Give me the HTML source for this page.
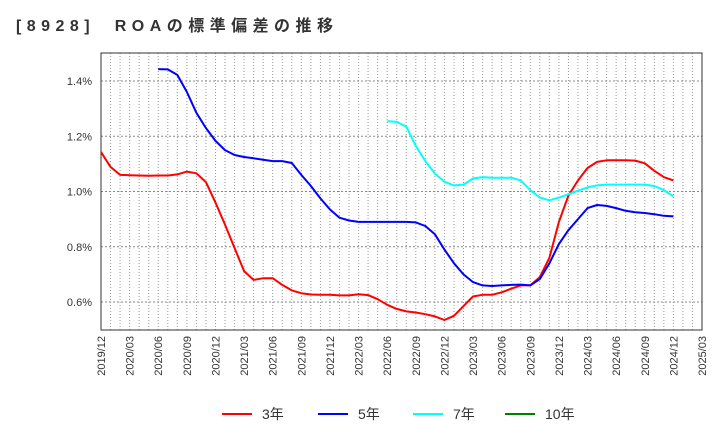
<!DOCTYPE html>
<html><head><meta charset="utf-8">
<style>
body{margin:0;background:#fff;font-family:"Liberation Sans","Noto Sans CJK JP",sans-serif;}
svg text{font-family:"Liberation Sans","Noto Sans CJK JP",sans-serif;}
</style></head>
<body>
<svg id="chart" width="720" height="440" xmlns="http://www.w3.org/2000/svg">
<text x="16" y="31" font-size="16" font-weight="bold" fill="#333" textLength="317" lengthAdjust="spacing" xml:space="preserve">[8928]  ROAの標準偏差の推移</text>
<g id="grid"></g>
<rect x="101" y="53" width="601" height="277" fill="none" stroke="#333" stroke-width="1"/>
<g id="series"></g>
<g id="axes"></g>
<g id="legend"></g>
</svg>
<script>
const xLabels=["2019/12","2020/03","2020/06","2020/09","2020/12","2021/03","2021/06","2021/09","2021/12","2022/03","2022/06","2022/09","2022/12","2023/03","2023/06","2023/09","2023/12","2024/03","2024/06","2024/09","2024/12","2025/03"];
const yTicks=[0.6,0.8,1.0,1.2,1.4];
const yTickLabels=["0.6%","0.8%","1.0%","1.2%","1.4%"];
const seriesNames=["3年","5年","7年","10年"];
const seriesColors=["#ff0000","#0000ff","#00ffff","#008000"];
const start3=0;
const roa3=[1.143,1.089,1.06,1.059,1.058,1.057,1.058,1.058,1.062,1.072,1.066,1.034,0.96,0.88,0.795,0.712,0.68,0.686,0.686,0.662,0.642,0.632,0.627,0.626,0.626,0.624,0.624,0.628,0.625,0.61,0.59,0.575,0.566,0.562,0.556,0.548,0.535,0.55,0.585,0.62,0.626,0.626,0.635,0.648,0.66,0.66,0.69,0.76,0.89,0.985,1.04,1.085,1.107,1.113,1.113,1.113,1.112,1.102,1.075,1.052,1.04];
const start5=6;
const roa5=[1.443,1.442,1.422,1.36,1.285,1.23,1.183,1.15,1.132,1.125,1.12,1.115,1.11,1.11,1.103,1.06,1.02,0.975,0.935,0.905,0.895,0.89,0.89,0.89,0.89,0.89,0.89,0.888,0.875,0.845,0.79,0.74,0.7,0.672,0.66,0.658,0.66,0.662,0.663,0.66,0.683,0.74,0.81,0.86,0.9,0.94,0.951,0.948,0.94,0.93,0.925,0.922,0.918,0.912,0.91];
const start7=30;
const roa7=[1.255,1.252,1.235,1.165,1.11,1.065,1.035,1.022,1.025,1.047,1.052,1.05,1.05,1.05,1.04,1.005,0.978,0.968,0.978,0.99,1.003,1.015,1.022,1.025,1.025,1.025,1.025,1.025,1.02,1.005,0.983];
const roa10=[];

const NS="http://www.w3.org/2000/svg";
const X0=101,X1=702,Y0=53,Y1=330,NM=63;
const xs=m=>X0+(X1-X0)*m/NM;
const ys=v=>302-(v-0.6)/0.2*55.25;
function mk(t,a,p){const e=document.createElementNS(NS,t);for(const k in a)e.setAttribute(k,a[k]);p.appendChild(e);return e;}
const grid=document.getElementById('grid'),axes=document.getElementById('axes'),ser=document.getElementById('series'),leg=document.getElementById('legend');
for(let m=1;m<NM;m++){const l=mk('line',{x1:xs(m),x2:xs(m),y1:Y0,y2:Y1,stroke:'#999','stroke-dasharray':'1,2','stroke-width':1},grid);

}
yTicks.forEach((v,i)=>{const l=mk('line',{x1:X0,x2:X1,y1:ys(v),y2:ys(v),stroke:'#888','stroke-dasharray':'2,2','stroke-width':1},grid);


const t=mk('text',{x:92,y:ys(v)+4,'font-size':11,fill:'#333','text-anchor':'end'},axes);t.textContent=yTickLabels[i];

});
xLabels.forEach((s,i)=>{const x=xs(i*3);const t=mk('text',{x:0,y:0,'font-size':11,fill:'#333','text-anchor':'end',transform:`translate(${x+4},336) rotate(-90)`},axes);t.textContent=s;

});
function line(arr,st,c,n){if(!arr.length)return;const pts=arr.map((v,i)=>xs(st+i).toFixed(1)+','+ys(v).toFixed(1)).join(' ');
const p=mk('polyline',{points:pts,fill:'none',stroke:c,'stroke-width':2,'stroke-linejoin':'round'},ser);

}
line(roa3,start3,seriesColors[0],'series-3y');
line(roa5,start5,seriesColors[1],'series-5y');
line(roa7,start7,seriesColors[2],'series-7y');
line(roa10,0,seriesColors[3],'series-10y');
const lx=[222,318,413,505];
seriesNames.forEach((n,i)=>{const g=mk('g',{},leg);


mk('line',{x1:lx[i],x2:lx[i]+30,y1:414,y2:414,stroke:seriesColors[i],'stroke-width':2},g);
const t=mk('text',{x:lx[i]+40,y:419,'font-size':14,fill:'#333'},g);t.textContent=n;});
</script>
</body></html>
